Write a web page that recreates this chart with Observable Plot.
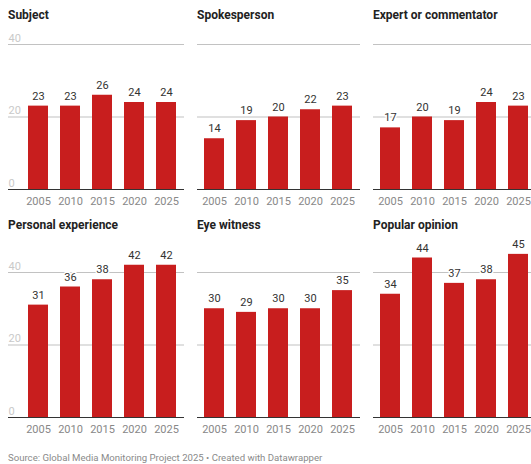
<!DOCTYPE html>
<html>
<head>
<meta charset="utf-8">
<script src="https://cdn.jsdelivr.net/npm/d3@7"></script>
<script src="https://cdn.jsdelivr.net/npm/@observablehq/plot@0.6"></script>
<style>
  html, body { margin: 0; padding: 0; background: #fff; }
  body { width: 531px; height: 464px; overflow: hidden; position: relative; font-family: Roboto, sans-serif; }
  .panel { position: absolute; }
  .panel svg { max-width: none !important; }
  .title { position: absolute; font: bold 12px/12px Roboto, sans-serif; color: #222; white-space: nowrap; }
  .source { position: absolute; left: 8px; top: 453px; font: 9.6px/10px Roboto, sans-serif; color: #8a8a8a; white-space: nowrap; }
</style>
</head>
<body>
<div id="root"></div>
<div class="source">Source: Global Media Monitoring Project 2025 • Created with Datawrapper</div>
<script>
const years = ["2005", "2010", "2015", "2020", "2025"];
const gridTicks = [0, 20, 40];
const titles = ["Subject", "Spokesperson", "Expert or commentator", "Personal experience", "Eye witness", "Popular opinion"];
const subject = [23, 23, 26, 24, 24];
const spokesperson = [14, 19, 20, 22, 23];
const expert = [17, 20, 19, 24, 23];
const personal = [31, 36, 38, 42, 42];
const eyewitness = [30, 29, 30, 30, 35];
const popular = [34, 44, 37, 38, 45];
const seriesList = [subject, spokesperson, expert, personal, eyewitness, popular];

const colLeft = [8, 197, 373];
const rowTop = [0, 228];
const titleTop = [9, 219];
const root = document.getElementById("root");

seriesList.forEach((values, k) => {
  const col = k % 3, row = Math.floor(k / 3);
  const isFirst = col === 0;
  const data = years.map((y, i) => ({year: y, value: values[i]}));
  const w = isFirst ? 176 : 163;
  const chart = Plot.plot({
    width: w,
    height: 210,
    marginTop: 44,
    marginBottom: 21,
    marginLeft: 0,
    marginRight: 0,
    x: {type: "band", domain: years, range: isFirst ? [12.75, 175.25] : [0, 162.5], paddingInner: 0.385, paddingOuter: 0.19, align: 0.5},
    y: {domain: [0, 40], axis: null},
    style: {fontFamily: "Roboto, sans-serif", background: "transparent", overflow: "visible", maxWidth: "none"},
    marks: [
      Plot.ruleY(gridTicks.filter(d => d > 0), {stroke: "#c2c2c2", strokeWidth: 1.2}),
      isFirst ? Plot.text(gridTicks, {y: d => d, text: d => String(d), frameAnchor: "left", textAnchor: "start", lineAnchor: "bottom", dy: -3, fill: "#c9c9c9", fontSize: 11}) : null,
      Plot.barY(data, {x: "year", y: "value", fill: "#c81e1e"}),
      Plot.ruleY([0], {stroke: "#333", strokeWidth: 1.2}),
      Plot.text(data, {x: "year", y: "value", text: d => String(d.value), dy: -10, fill: "#333", stroke: "white", strokeWidth: 3, fontSize: 11}),
      Plot.axisX({tickSize: 0, tickPadding: 8, fontSize: 11, color: "#888", label: null})
    ]
  });
  chart.style.maxWidth = "none";
  const div = document.createElement("div");
  div.className = "panel";
  div.style.left = colLeft[col] + "px";
  div.style.top = rowTop[row] + "px";
  div.style.width = w + "px";
  div.appendChild(chart);
  root.appendChild(div);

  const t = document.createElement("div");
  t.className = "title";
  t.style.left = colLeft[col] + "px";
  t.style.top = titleTop[row] + "px";
  t.textContent = titles[k];
  root.appendChild(t);
});
</script>
</body>
</html>
